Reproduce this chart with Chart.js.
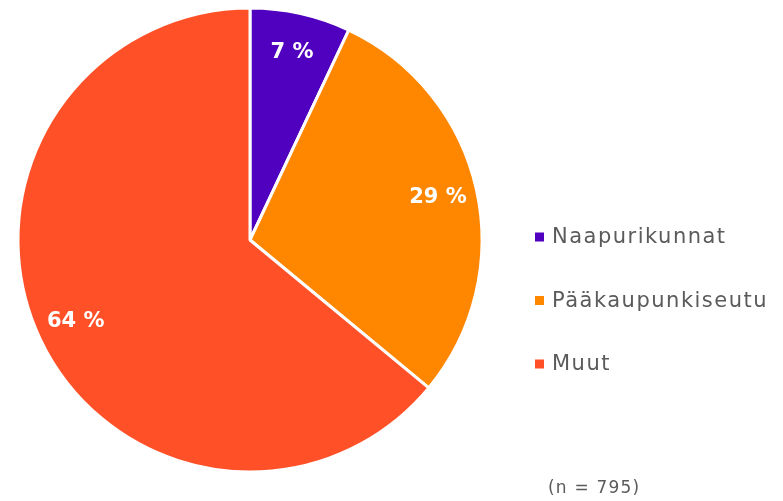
<!DOCTYPE html>
<html>
<head>
<meta charset="utf-8">
<script src="https://cdn.jsdelivr.net/npm/chart.js@4"></script>
<style>
  html, body { margin: 0; padding: 0; background: #fff; }
  #wrap { position: relative; width: 783px; height: 501px; }
</style>
</head>
<body>
<div id="wrap"><canvas id="pieChart" width="783" height="501"></canvas></div>
<script>
const categories = ['Naapurikunnat', 'Pääkaupunkiseutu', 'Muut'];
const shares = [7, 29, 64];
const sliceColors = ['#5000bf', '#ff8700', '#ff5028'];
const sampleNote = '(n = 795)';

const textGrey = '#5b5b5b';
const fontFamily = '"DejaVu Sans", sans-serif';

// percent labels inside the slices
const sliceLabels = {
    id: 'sliceLabels',
    afterDatasetsDraw(chart) {
        const ctx = chart.ctx;
        const meta = chart.getDatasetMeta(0);
        ctx.save();
        ctx.fillStyle = '#ffffff';
        ctx.font = 'bold 21px ' + fontFamily;
        ctx.textAlign = 'center';
        ctx.textBaseline = 'middle';
        meta.data.forEach((arc, i) => {
            const p = arc.getProps(['x', 'y', 'startAngle', 'endAngle', 'outerRadius'], true);
            const mid = (p.startAngle + p.endAngle) / 2;
            const r = p.outerRadius * 0.83;
            ctx.fillText(shares[i] + ' %', p.x + Math.cos(mid) * r, p.y + Math.sin(mid) * r);
        });
        ctx.restore();
    }
};

// legend on the right + sample size note
const sideLegend = {
    id: 'sideLegend',
    afterDraw(chart) {
        const ctx = chart.ctx;
        ctx.save();
        ctx.font = '21px ' + fontFamily;
        ctx.letterSpacing = '1.5px';
        ctx.textBaseline = 'middle';
        categories.forEach((name, i) => {
            const y = 237 + i * 63.5;
            ctx.fillStyle = sliceColors[i];
            ctx.fillRect(535, y - 4.5, 9, 9);
            ctx.fillStyle = textGrey;
            ctx.fillText(name, 552, y + 1);
        });
        ctx.font = '17px ' + fontFamily;
        ctx.letterSpacing = '1.2px';
        ctx.fillText(sampleNote, 548, 489);
        ctx.restore();
    }
};

const ctx = document.getElementById('pieChart').getContext('2d');
const pieChart = new Chart(ctx, {
    type: 'pie',
    data: {
        labels: categories,
        datasets: [{
            data: shares,
            backgroundColor: sliceColors,
            borderColor: '#ffffff',
            borderWidth: 3
        }]
    },
    options: {
        responsive: false,
        animation: false,
        layout: { padding: { left: 16.5, right: 299.5, top: 6.5, bottom: 27.5 } },
        plugins: {
            legend: { display: false },
            tooltip: { enabled: false }
        }
    },
    plugins: [sliceLabels, sideLegend]
});
</script>
</body>
</html>
